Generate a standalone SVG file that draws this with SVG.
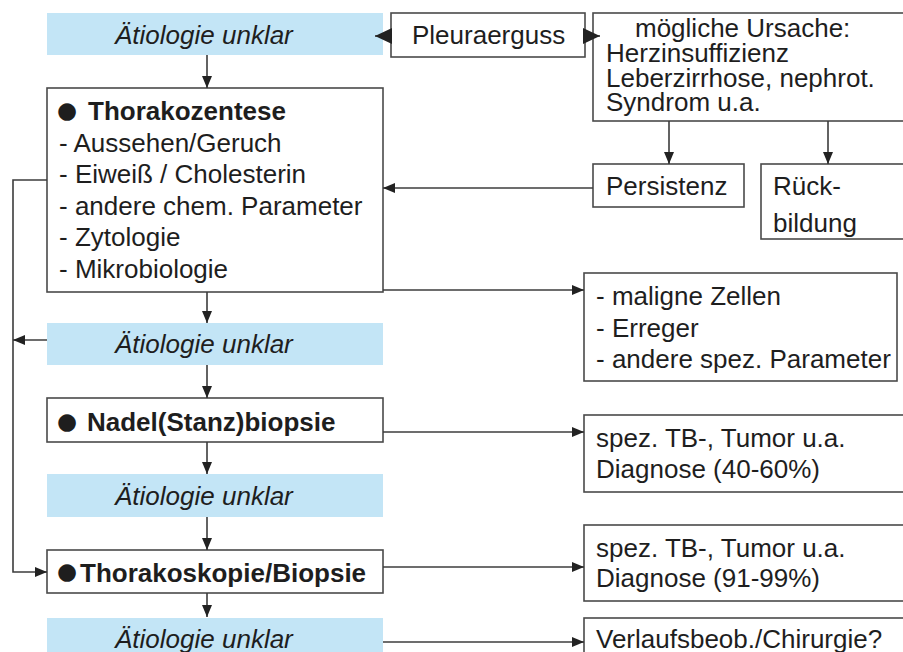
<svg xmlns="http://www.w3.org/2000/svg" width="903" height="652" viewBox="0 0 903 652">
<defs>
<style>
text{font-family:"Liberation Sans",Arial,sans-serif;font-size:26px;fill:#1e1e1e}
.it{font-style:italic}
.b{font-weight:bold}
.bul{font-family:"DejaVu Sans",sans-serif;font-size:23px}
.box{fill:#fff;stroke:#4a4a4a;stroke-width:1.6}
.blue{fill:#c3e5f6;stroke:none}
.ln{fill:none;stroke:#3c3c3c;stroke-width:1.6}
</style>
<marker id="a" markerUnits="userSpaceOnUse" markerWidth="12" markerHeight="10" refX="12" refY="5" orient="auto">
<path d="M0,0L12,5L0,10z" fill="#222"/>
</marker>
<marker id="A" markerUnits="userSpaceOnUse" markerWidth="17" markerHeight="16" refX="17" refY="8" orient="auto">
<path d="M0,0L17,8L0,16z" fill="#222"/>
</marker>
</defs>
<rect width="903" height="652" fill="#fff"/>
<g id="n_unklar1"><rect class="blue" x="47" y="13" width="336" height="42"/><text class="it" x="115" y="44">Ätiologie unklar</text></g>
<g id="n_pleura"><rect class="box" x="391" y="13" width="194" height="44"/><text x="412" y="44">Pleuraerguss</text></g>
<g id="n_ursache"><rect class="box" x="593" y="13" width="320" height="108"/><text x="635" y="37">mögliche Ursache:</text><text x="606" y="62">Herzinsuffizienz</text><text x="606" y="87">Leberzirrhose, nephrot.</text><text x="606" y="111">Syndrom u.a.</text></g>
<g id="n_persistenz"><rect class="box" x="593" y="164" width="151" height="43"/><text x="606" y="195">Persistenz</text></g>
<g id="n_rueck"><rect class="box" x="761" y="164" width="152" height="75"/><text x="773" y="195">Rück-</text><text x="773" y="232">bildung</text></g>
<g id="n_thorakozentese"><rect class="box" x="47" y="88" width="336" height="204"/>
<text x="57" y="118"><tspan class="bul">●</tspan></text><text class="b" x="88" y="120">Thorakozentese</text>
<text x="59" y="152">- Aussehen/Geruch</text>
<text x="59" y="183">- Eiweiß / Cholesterin</text>
<text x="59" y="215">- andere chem. Parameter</text>
<text x="59" y="246">- Zytologie</text>
<text x="59" y="278">- Mikrobiologie</text></g>
<g id="n_unklar2"><rect class="blue" x="47" y="323" width="336" height="42"/><text class="it" x="115" y="353">Ätiologie unklar</text></g>
<g id="n_maligne"><rect class="box" x="584" y="273" width="313" height="108"/><text x="596" y="305">- maligne Zellen</text><text x="596" y="337">- Erreger</text><text x="596" y="368">- andere spez. Parameter</text></g>
<g id="n_nadel"><rect class="box" x="47" y="398" width="336" height="44"/><text x="57" y="429"><tspan class="bul">●</tspan></text><text class="b" x="87" y="431">Nadel(Stanz)biopsie</text></g>
<g id="n_spez1"><rect class="box" x="584" y="415" width="330" height="77"/><text x="596" y="447">spez. TB-, Tumor u.a.</text><text x="596" y="478">Diagnose (40-60%)</text></g>
<g id="n_unklar3"><rect class="blue" x="47" y="474" width="336" height="43"/><text class="it" x="115" y="505">Ätiologie unklar</text></g>
<g id="n_thorakoskopie"><rect class="box" x="47" y="550" width="336" height="43"/><text x="57" y="579"><tspan class="bul">●</tspan></text><text class="b" x="80" y="582">Thorakoskopie/Biopsie</text></g>
<g id="n_spez2"><rect class="box" x="584" y="525" width="330" height="76"/><text x="596" y="557">spez. TB-, Tumor u.a.</text><text x="596" y="587">Diagnose (91-99%)</text></g>
<g id="n_unklar4"><rect class="blue" x="47" y="618" width="336" height="40"/><text class="it" x="115" y="648">Ätiologie unklar</text></g>
<g id="n_verlauf"><rect class="box" x="584" y="618" width="330" height="40"/><text x="596" y="648">Verlaufsbeob./Chirurgie?</text></g>
<g id="connectors">
<path class="ln" d="M391,36H375" marker-end="url(#A)"/>
<path class="ln" d="M585,36H600" marker-end="url(#A)"/>
<path class="ln" d="M669,121V164" marker-end="url(#a)"/>
<path class="ln" d="M828,121V164" marker-end="url(#a)"/>
<path class="ln" d="M593,188H383" marker-end="url(#a)"/>
<path class="ln" d="M207,55V88" marker-end="url(#a)"/>
<path class="ln" d="M207,292V323" marker-end="url(#a)"/>
<path class="ln" d="M207,365V398" marker-end="url(#a)"/>
<path class="ln" d="M207,442V474" marker-end="url(#a)"/>
<path class="ln" d="M207,517V550" marker-end="url(#a)"/>
<path class="ln" d="M207,593V617" marker-end="url(#a)"/>
<path class="ln" d="M383,290H584" marker-end="url(#a)"/>
<path class="ln" d="M383,432H584" marker-end="url(#a)"/>
<path class="ln" d="M383,567H584" marker-end="url(#a)"/>
<path class="ln" d="M383,642H584" marker-end="url(#a)"/>
<path class="ln" d="M47,180H13V572H47" marker-end="url(#a)"/>
<path class="ln" d="M47,340H13" marker-end="url(#a)"/>
</g>
</svg>
